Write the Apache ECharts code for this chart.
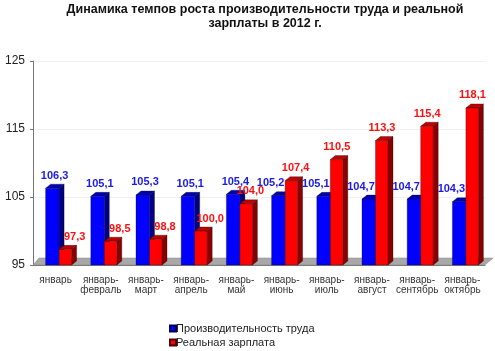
<!DOCTYPE html>
<html>
<head>
<meta charset="utf-8">
<script src="https://cdn.jsdelivr.net/npm/echarts@6/dist/echarts.min.js"></script>
<style>
  html, body { margin: 0; padding: 0; background: #fff; }
  #main { width: 495px; height: 351px; }
</style>
</head>
<body>
<div id="main"></div>
<script>
var months = ['январь', 'январь-\nфевраль', 'январь-\nмарт', 'январь-\nапрель', 'январь-\nмай',
    'январь-\nиюнь', 'январь-\nиюль', 'январь-\nавгуст', 'январь-\nсентябрь', 'январь-\nоктябрь'];
var productivity = [106.3, 105.1, 105.3, 105.1, 105.4, 105.2, 105.1, 104.7, 104.7, 104.3];
var realWage = [97.3, 98.5, 98.8, 100.0, 104.0, 107.4, 110.5, 113.3, 115.4, 118.1];

var chart = echarts.init(document.getElementById('main'));

var BASE = 95;
var DX = 5, DY = 4;

function fmt(v) {
    return v.toFixed(1).replace('.', ',');
}

// label x-shift from category centre, keeps the two labels apart like Excel does
function labelShift(i, pos) {
    var d = realWage[i] - productivity[i];
    if (!pos) return d > 1 ? -11 : -1;
    if (d < -2) return 19;
    if (d < 4) return 14;
    return 10;
}

// 3d-looking bar; pos = 0 left (blue), 1 right (red)
function bar3d(front, top, side, labelColor, pos) {
    return function (params, api) {
        var cat = api.value(0), v = api.value(1);
        var b = api.coord([cat, BASE]);
        var t = api.coord([cat, v]);
        var c = b[0];
        var x0 = pos ? c + 3.5 : c - 10;
        var x1 = pos ? c + 16 : c + 3.5;
        var yb = b[1], yt = t[1];
        return {
            type: 'group',
            children: [
                { type: 'polygon', shape: { points: [[x1, yt], [x1 + DX, yt - DY], [x1 + DX, yb - DY], [x1, yb]] },
                  style: { fill: side, stroke: 'rgba(0,0,0,0.6)', lineWidth: 0.5 } },
                { type: 'polygon', shape: { points: [[x0, yt], [x1, yt], [x1 + DX, yt - DY], [x0 + DX, yt - DY]] },
                  style: { fill: top, stroke: 'rgba(0,0,0,0.6)', lineWidth: 0.5 } },
                { type: 'rect', shape: { x: x0, y: yt, width: x1 - x0, height: yb - yt },
                  style: { fill: front, stroke: 'rgba(0,0,0,0.6)', lineWidth: 0.5 } },
                { type: 'text', z2: 100, x: c + labelShift(params.dataIndex, pos), y: yt - DY - 3,
                  style: { text: fmt(v), fill: labelColor, font: 'bold 11px "Liberation Sans", Arial',
                           align: 'center', verticalAlign: 'bottom' } }
            ]
        };
    };
}

function floor(params, api) {
    var cs = params.coordSys;
    var y = cs.y + cs.height;
    return {
        type: 'polygon',
        shape: { points: [[cs.x, y], [cs.x + cs.width, y], [cs.x + cs.width + 8, y - 7], [cs.x + 6, y - 7]] },
        style: { fill: '#a8a8a8', stroke: '#888', lineWidth: 0.5 }
    };
}

option = {
    backgroundColor: '#fff',
    animation: false,
    textStyle: { fontFamily: '"Liberation Sans", Arial, sans-serif' },
    title: {
        text: 'Динамика темпов роста производительности труда и реальной\nзарплаты в 2012 г.',
        left: 260,
        top: -2,
        textAlign: 'center',
        textStyle: { fontSize: 12.5, fontWeight: 'bold', color: '#111', lineHeight: 14 }
    },
    legend: {
        orient: 'vertical',
        left: 164,
        top: 318,
        height: 34,
        itemWidth: 6,
        itemHeight: 6,
        itemGap: 3,
        icon: 'rect',
        textStyle: { fontSize: 11, color: '#222', padding: [0, 0, 0, -5] },
        data: ['Производительность труда', 'Реальная зарплата']
    },
    grid: { left: 33, right: 10, top: 61, bottom: 86 },
    xAxis: {
        type: 'category',
        data: months,
        axisLine: { lineStyle: { color: '#777' } },
        axisTick: { length: 5, lineStyle: { color: '#777' } },
        axisLabel: { fontSize: 10, color: '#333', lineHeight: 10, margin: 10, interval: 0 }
    },
    yAxis: {
        type: 'value',
        min: 95,
        max: 125,
        interval: 10,
        axisLine: { show: true, lineStyle: { color: '#777' } },
        axisTick: { show: true, length: 3, lineStyle: { color: '#777' } },
        axisLabel: { fontSize: 12, color: '#222', margin: 8 },
        splitLine: { lineStyle: { color: '#f0f0f0' } }
    },
    series: [
        { type: 'custom', name: 'floor', renderItem: floor, data: [[0, BASE]], silent: true, z: 1 },
        {
            type: 'custom',
            name: 'Производительность труда',
            itemStyle: { color: '#0000ff', borderColor: '#000050', borderWidth: 1 },
            renderItem: bar3d('#0000ff', '#0000b0', '#000080', '#1a1ae0', 0),
            data: productivity.map(function (v, i) { return [i, v]; }),
            encode: { x: 0, y: 1 },
            z: 2
        },
        {
            type: 'custom',
            name: 'Реальная зарплата',
            itemStyle: { color: '#ff0000', borderColor: '#500000', borderWidth: 1 },
            renderItem: bar3d('#ff0000', '#c00000', '#8a0000', '#ff1010', 1),
            data: realWage.map(function (v, i) { return [i, v]; }),
            encode: { x: 0, y: 1 },
            z: 2
        }
    ]
};
chart.setOption(option);
</script>
</body>
</html>
